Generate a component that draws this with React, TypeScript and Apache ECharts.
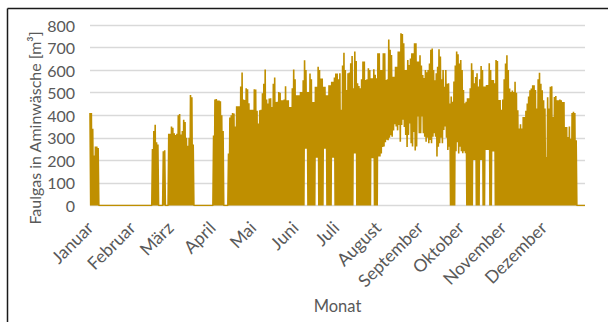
import { useEffect, useRef } from 'react';
import * as echarts from 'echarts';

// Month names for the category axis (German)
const monthNames = [
  'Januar', 'Februar', 'März', 'April', 'Mai', 'Juni',
  'Juli', 'August', 'September', 'Oktober', 'November', 'Dezember',
];
// Day-of-year index on which each month starts
const monthStartDays = [0, 31, 59, 90, 120, 151, 181, 212, 243, 273, 304, 334];

// Daily peak of the digester gas flow to the amine scrubber [m³]
const peakJan = [410, 410, 340, 222, 262, 262, 255, 0, 0, 0, 0, 0, 0, 0, 0, 0, 0, 0, 0, 0, 0, 0, 0, 0, 0, 0, 0, 0, 0, 0, 0];
const peakFeb = [0, 0, 0, 0, 0, 0, 0, 0, 0, 0, 0, 0, 0, 0, 0, 250, 330, 358, 280, 270, 0, 0, 0, 240, 245, 0, 0, 318];
const peakMar = [318, 350, 345, 320, 312, 318, 400, 405, 315, 330, 380, 370, 300, 265, 300, 490, 480, 270, 0, 0, 0, 0, 0, 0, 0, 0, 0, 0, 0, 0, 0];
const peakApr = [0, 310, 470, 472, 465, 465, 462, 400, 330, 0, 0, 0, 230, 390, 400, 410, 408, 350, 440, 440, 440, 527, 589, 470, 468, 520, 515, 453, 424, 424];
const peakMay = [424, 515, 514, 420, 363, 422, 424, 497, 540, 603, 470, 452, 474, 475, 437, 540, 567, 459, 460, 503, 500, 466, 466, 470, 529, 466, 466, 437, 437, 520, 603];
const peakJun = [560, 489, 489, 489, 503, 503, 555, 644, 600, 503, 503, 585, 560, 459, 459, 526, 526, 615, 600, 563, 563, 526, 526, 489, 489, 533, 533, 548, 548, 567];
const peakJul = [585, 585, 560, 586, 424, 620, 677, 600, 512, 586, 590, 630, 663, 520, 682, 640, 542, 530, 520, 560, 638, 638, 556, 560, 608, 600, 564, 564, 604, 580, 564];
const peakAug = [675, 675, 600, 600, 675, 675, 556, 560, 736, 690, 667, 571, 571, 615, 615, 682, 682, 763, 760, 719, 600, 600, 645, 623, 652, 675, 675, 719, 719, 638, 638];
const peakSep = [666, 620, 578, 565, 600, 590, 600, 629, 690, 696, 600, 555, 586, 615, 692, 660, 560, 600, 526, 600, 540, 542, 452, 483, 460, 550, 620, 682, 670, 629];
const peakOct = [645, 600, 512, 453, 460, 475, 475, 520, 630, 600, 542, 570, 586, 527, 560, 618, 600, 527, 527, 534, 534, 630, 600, 556, 556, 542, 645, 640, 468, 468, 424];
const peakNov = [470, 560, 629, 666, 600, 518, 503, 510, 503, 548, 500, 422, 341, 360, 341, 392, 392, 420, 452, 483, 511, 518, 533, 533, 512, 430, 560, 588, 540, 511];
const peakDec = [466, 430, 215, 480, 430, 526, 529, 392, 481, 485, 466, 466, 470, 466, 459, 459, 348, 348, 304, 350, 296, 410, 415, 410, 289, 0, 0, 0, 0, 0, 0];

// Daily minimum of the same flow [m³]
const lowJan = [0, 0, 0, 0, 0, 0, 0, 0, 0, 0, 0, 0, 0, 0, 0, 0, 0, 0, 0, 0, 0, 0, 0, 0, 0, 0, 0, 0, 0, 0, 0];
const lowFeb = [0, 0, 0, 0, 0, 0, 0, 0, 0, 0, 0, 0, 0, 0, 0, 0, 0, 0, 0, 0, 0, 0, 0, 0, 0, 0, 0, 0];
const lowMar = [0, 0, 0, 0, 0, 0, 0, 0, 0, 0, 0, 0, 0, 0, 0, 0, 0, 0, 0, 0, 0, 0, 0, 0, 0, 0, 0, 0, 0, 0, 0];
const lowApr = [0, 0, 0, 0, 0, 0, 0, 0, 0, 0, 0, 0, 0, 0, 0, 0, 0, 0, 0, 0, 0, 0, 0, 0, 0, 0, 0, 0, 0, 0];
const lowMay = [0, 0, 0, 0, 0, 0, 0, 0, 0, 0, 0, 0, 0, 0, 0, 0, 0, 0, 0, 0, 0, 0, 0, 0, 0, 0, 0, 0, 0, 0, 0];
const lowJun = [0, 0, 0, 0, 0, 0, 0, 252, 252, 0, 0, 0, 0, 0, 0, 212, 212, 0, 0, 0, 0, 252, 252, 0, 0, 0, 0, 212, 212, 0];
const lowJul = [0, 0, 0, 0, 0, 0, 0, 0, 0, 0, 0, 0, 0, 230, 230, 0, 0, 0, 0, 0, 0, 0, 0, 0, 0, 0, 210, 210, 0, 0, 0];
const lowAug = [217, 217, 230, 259, 261, 280, 291, 289, 300, 311, 305, 333, 360, 350, 333, 357, 283, 357, 380, 348, 313, 259, 313, 363, 276, 261, 326, 244, 261, 394, 320];
const lowSep = [320, 394, 320, 305, 283, 300, 276, 290, 276, 305, 320, 305, 217, 260, 276, 300, 276, 335, 350, 300, 246, 260, 0, 0, 0, 0, 240, 280, 230, 260];
const lowOct = [240, 232, 240, 232, 0, 0, 0, 0, 0, 202, 202, 0, 0, 0, 202, 202, 0, 0, 246, 246, 246, 0, 0, 239, 239, 0, 0, 0, 0, 0, 0];
const lowNov = [0, 0, 0, 0, 0, 0, 0, 0, 0, 0, 0, 0, 0, 0, 0, 0, 0, 0, 0, 0, 0, 0, 0, 0, 0, 0, 0, 0, 0, 0];
const lowDec = [0, 0, 0, 0, 0, 0, 0, 0, 0, 0, 0, 0, 0, 0, 0, 0, 0, 0, 0, 0, 0, 0, 0, 0, 0, 0, 0, 0, 0, 0, 0];

// Y axis ticks
const yMin = 0;
const yMax = 800;
const yStep = 100;

const dailyPeak = [
  ...peakJan, ...peakFeb, ...peakMar, ...peakApr, ...peakMay, ...peakJun,
  ...peakJul, ...peakAug, ...peakSep, ...peakOct, ...peakNov, ...peakDec,
];
const dailyLow = [
  ...lowJan, ...lowFeb, ...lowMar, ...lowApr, ...lowMay, ...lowJun,
  ...lowJul, ...lowAug, ...lowSep, ...lowOct, ...lowNov, ...lowDec,
];

// Every day contributes two samples (peak, then minimum) so the line swings
// through the daily range like the hourly record does.
const samples: number[] = [];
const categories: string[] = [];
dailyPeak.forEach((peak, day) => {
  samples.push(peak, dailyLow[day]);
  const m = monthStartDays.indexOf(day);
  categories.push(m >= 0 ? monthNames[m] : '', '');
});

const FONT = 'Lato, "Open Sans", sans-serif';
const TEXT = '#595959';
const GOLD = '#BF8F00';

export default function App() {
  const ref = useRef<HTMLDivElement>(null);

  useEffect(() => {
    if (!ref.current) return;
    const chart = echarts.init(ref.current, undefined, { renderer: 'svg' });
    chart.setOption({
      animation: false,
      backgroundColor: '#ffffff',
      grid: { left: 90, right: 23, top: 25, bottom: 116.5, containLabel: false },
      xAxis: {
        type: 'category',
        data: categories,
        boundaryGap: false,
        axisLine: { show: false },
        axisTick: { show: false },
        splitLine: { show: false },
        axisLabel: {
          interval: (_i: number, v: string) => v !== '',
          rotate: 45,
          margin: 19,
          color: TEXT,
          fontSize: 17.5,
          fontFamily: FONT,
        },
        name: 'Monat',
        nameLocation: 'middle',
        nameGap: 90,
        nameTextStyle: { color: TEXT, fontSize: 16.5, fontFamily: FONT },
      },
      yAxis: {
        type: 'value',
        min: yMin,
        max: yMax,
        interval: yStep,
        axisLine: { show: false },
        axisTick: { show: false },
        axisLabel: { margin: 15, color: TEXT, fontSize: 16, fontFamily: FONT },
        splitLine: { lineStyle: { color: '#d9d9d9', width: 1.3 } },
      },
      series: [
        {
          type: 'line',
          data: samples,
          symbol: 'none',
          lineStyle: { color: GOLD, width: 1.6 },
          itemStyle: { color: GOLD },
          z: 3,
        },
      ],
      graphic: [
        {
          type: 'line',
          shape: { x1: 7.5, y1: 8.5, x2: 608, y2: 8.5 },
          style: { stroke: '#1a1a1a', lineWidth: 1.5 },
        },
        {
          type: 'line',
          shape: { x1: 7.5, y1: 8.5, x2: 7.5, y2: 322 },
          style: { stroke: '#1a1a1a', lineWidth: 1.5 },
        },
        {
          type: 'text',
          x: 34,
          y: 128,
          rotation: Math.PI / 2,
          style: {
            text: 'Faulgas in Aminwäsche [m³]',
            align: 'center',
            verticalAlign: 'middle',
            fill: TEXT,
            font: `16px ${FONT}`,
          },
        },
      ],
    });
    return () => chart.dispose();
  }, []);

  return (
    <div
      ref={ref}
      style={{ position: 'fixed', left: 0, top: 0, width: 608, height: 322 }}
    />
  );
}
